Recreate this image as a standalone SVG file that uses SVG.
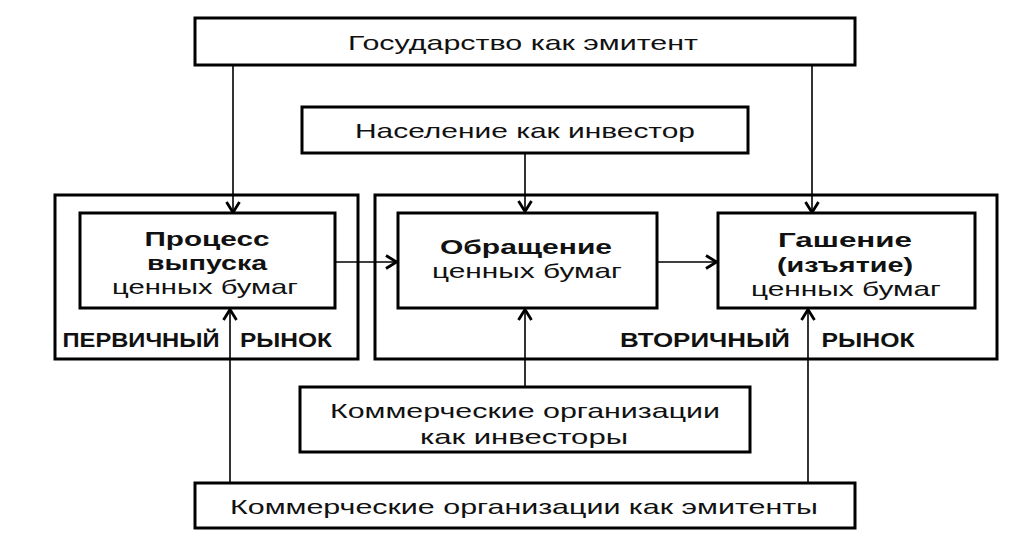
<svg xmlns="http://www.w3.org/2000/svg" width="1024" height="547" viewBox="0 0 1024 547">
<style>
.box{fill:#fff;stroke:#000;stroke-width:3}
.outer{fill:none;stroke:#000;stroke-width:3}
.t{font-family:"Liberation Sans",Arial,sans-serif;font-size:21px;fill:#111;text-anchor:middle}
.b{font-weight:bold}
.ca{stroke:#000;stroke-width:1.6;fill:none;marker-end:url(#ah)}
</style>
<defs>
<marker id="ah" viewBox="0 0 14 16" refX="13" refY="8" markerWidth="14" markerHeight="16" markerUnits="userSpaceOnUse" orient="auto">
<path d="M2,1.5 L12.5,8 L2,14.5" fill="none" stroke="#000" stroke-width="2.8"/>
</marker>
</defs>
<rect width="1024" height="547" fill="#fff"/>
<g id="primary-market">
<rect class="outer" x="55" y="195" width="303" height="164"/>
<text class="t b" x="141" y="347" textLength="157" lengthAdjust="spacingAndGlyphs">ПЕРВИЧНЫЙ</text>
<text class="t b" x="286" y="347" textLength="92" lengthAdjust="spacingAndGlyphs">РЫНОК</text>
</g>
<g id="secondary-market">
<rect class="outer" x="375" y="195" width="622" height="164"/>
<text class="t b" x="705" y="347" textLength="170" lengthAdjust="spacingAndGlyphs">ВТОРИЧНЫЙ</text>
<text class="t b" x="868" y="347" textLength="93" lengthAdjust="spacingAndGlyphs">РЫНОК</text>
</g>
<g id="connectors">
<line class="ca" x1="233" y1="65" x2="233" y2="213"/>
<line class="ca" x1="812" y1="65" x2="812" y2="213"/>
<line class="ca" x1="525" y1="153" x2="525" y2="212"/>
<line class="ca" x1="335" y1="262" x2="397" y2="262"/>
<line class="ca" x1="657" y1="262" x2="717" y2="262"/>
<line class="ca" x1="525" y1="387" x2="525" y2="309"/>
<line class="ca" x1="230" y1="483" x2="230" y2="309"/>
<line class="ca" x1="808" y1="483" x2="808" y2="309"/>
</g>
<g id="state">
<rect class="box" x="195" y="18" width="660" height="47"/>
<text class="t" x="523" y="50" textLength="350" lengthAdjust="spacingAndGlyphs">Государство как эмитент</text>
</g>
<g id="population">
<rect class="box" x="302" y="107" width="446" height="46"/>
<text class="t" x="525" y="138" textLength="340" lengthAdjust="spacingAndGlyphs">Население как инвестор</text>
</g>
<g id="issue">
<rect class="box" x="80" y="213" width="255" height="95"/>
<text class="t b" x="207" y="246" textLength="125" lengthAdjust="spacingAndGlyphs">Процесс</text>
<text class="t b" x="207" y="270" textLength="120" lengthAdjust="spacingAndGlyphs">выпуска</text>
<text class="t" x="205" y="294" textLength="186" lengthAdjust="spacingAndGlyphs">ценных бумаг</text>
</g>
<g id="circulation">
<rect class="box" x="398" y="213" width="259" height="95"/>
<text class="t b" x="526" y="254" textLength="172" lengthAdjust="spacingAndGlyphs">Обращение</text>
<text class="t" x="527" y="278" textLength="190" lengthAdjust="spacingAndGlyphs">ценных бумаг</text>
</g>
<g id="redemption">
<rect class="box" x="718" y="213" width="257" height="95"/>
<text class="t b" x="845" y="247" textLength="134" lengthAdjust="spacingAndGlyphs">Гашение</text>
<text class="t b" x="845" y="272" textLength="136" lengthAdjust="spacingAndGlyphs">(изъятие)</text>
<text class="t" x="846" y="296" textLength="190" lengthAdjust="spacingAndGlyphs">ценных бумаг</text>
</g>
<g id="commercial-investors">
<rect class="box" x="300" y="387" width="450" height="65"/>
<text class="t" x="525" y="418" textLength="390" lengthAdjust="spacingAndGlyphs">Коммерческие организации</text>
<text class="t" x="524" y="444" textLength="208" lengthAdjust="spacingAndGlyphs">как инвесторы</text>
</g>
<g id="commercial-issuers">
<rect class="box" x="195" y="483" width="660" height="45"/>
<text class="t" x="524" y="514" textLength="588" lengthAdjust="spacingAndGlyphs">Коммерческие организации как эмитенты</text>
</g>
</svg>
